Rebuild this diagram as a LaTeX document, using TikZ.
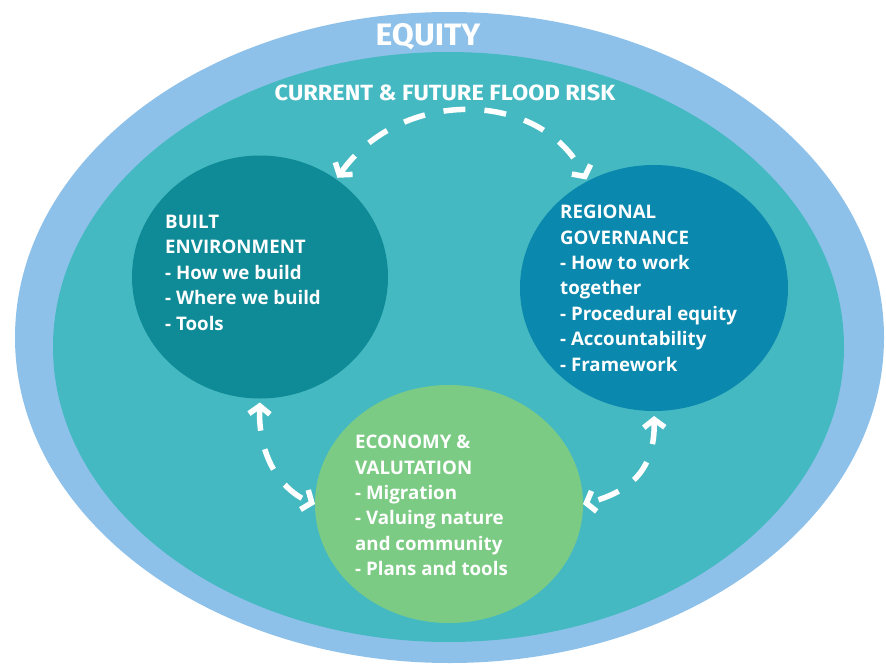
\documentclass[tikz,border=0pt]{standalone}
\usepackage{fontspec}
\setmainfont{Open Sans}
\newfontfamily\headfont{Fira Sans}
\usetikzlibrary{shapes.geometric,arrows.meta}
\definecolor{outerblue}{HTML}{8EC1E9}
\definecolor{riskteal}{HTML}{45B9C2}
\definecolor{builtc}{HTML}{0F8B97}
\definecolor{regc}{HTML}{0A88AD}
\definecolor{econc}{HTML}{7CCB84}
\begin{document}
\begin{tikzpicture}[x=1pt,y=-1pt,
  blob/.style={ellipse, inner sep=0pt, outer sep=0pt, draw=none},
  body/.style={text=white, font=\bfseries\fontsize{18.7}{25.4}\selectfont, align=left, inner sep=0pt, anchor=north west},
  title/.style={text=white, inner sep=0pt, anchor=base},
  flow/.style={draw=white, line width=5.5pt, dash pattern=on 22pt off 19pt,
    {Straight Barb[length=8pt,width=21pt]}-{Straight Barb[length=8pt,width=21pt]}}]
\useasboundingbox (0,0) rectangle (886,667);
\fill[white] (0,0) rectangle (886,667);
\node[blob, fill=outerblue, minimum width=869pt, minimum height=651pt] (equity) at (449.5,337.5) {};
\node[blob, fill=riskteal, minimum width=791pt, minimum height=590pt] (risk) at (448.5,347) {};
\node[blob, fill=builtc, minimum width=256pt, minimum height=243pt] (built) at (260,277) {};
\node[blob, fill=regc, minimum width=268pt, minimum height=246pt] (regional) at (654,288) {};
\node[blob, fill=econc, minimum width=268pt, minimum height=238pt] (economy) at (449,504) {};
\node[title, font=\headfont\bfseries\fontsize{31}{36}\selectfont, xscale=1.03] (equitylabel) at (428,45) {EQUITY};
\node[title, font=\headfont\bfseries\fontsize{22}{26}\selectfont, xscale=1.07] (risklabel) at (445,100.5) {CURRENT \& FUTURE FLOOD RISK};
\node[body] (builttext) at (165,215) {BUILT\\ENVIRONMENT\\- How we build\\- Where we build\\- Tools};
\node[body] (regtext) at (560,205) {REGIONAL\\GOVERNANCE\\- How to work\\together\\- Procedural equity\\- Accountability\\- Framework};
\node[body] (econtext) at (355,435) {ECONOMY \&\\VALUTATION\\- Migration\\- Valuing nature\\and community\\- Plans and tools};
\draw[flow, shorten <=2pt, shorten >=2pt] (built.52) .. controls (400,88) and (540,88) .. (regional.122);
\draw[flow, shorten <=4pt] (built.south) .. controls (258,455) and (280,490) .. (economy.west);
\draw[flow, shorten <=5pt] (regional.south) .. controls (655,470) and (630,492) .. (economy.east);
\end{tikzpicture}
\end{document}
